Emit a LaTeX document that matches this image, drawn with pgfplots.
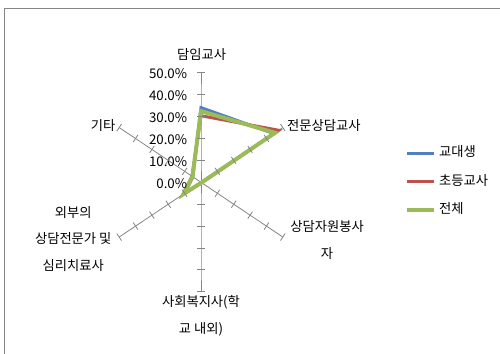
\documentclass[border=0pt]{standalone}
\usepackage{pgfplots}
\pgfplotsset{compat=1.18}
\usepackage{fontspec}
\setmainfont{Noto Sans CJK KR}
\definecolor{sblue}{HTML}{4F81BD}
\definecolor{sred}{HTML}{C0504D}
\definecolor{sgreen}{HTML}{9BBB59}
\definecolor{axgray}{HTML}{868686}
\tikzset{lab/.style={font=\fontsize{13.3}{26.7}\selectfont, inner sep=0pt, text=black}}
\begin{document}
\begin{tikzpicture}[x=1pt,y=1pt]
\useasboundingbox (0,0) rectangle (500,353);
\draw[axgray, line width=0.8pt] (4,-20) -- (4,344.7) -- (520,344.7);
\begin{axis}[
  at={(201pt,170.7pt)}, anchor=center,
  x=1.89pt, y=2.19pt,
  xmin=-60, xmax=60, ymin=-60, ymax=60,
  hide axis, clip=false,
  legend style={at={(axis cs:107.9,0.27)}, anchor=west, draw=none, fill=none,
    inner sep=0pt, column sep=3pt, row sep=15.7pt,
    nodes={inner sep=0pt, text height=10pt, text depth=3pt, font=\fontsize{13.3}{16}\selectfont, text=black}},
  legend cell align=left,
  legend image code/.code={\draw[#1] (0pt,0pt) -- (27pt,0pt);},
]
% spokes with ticks
\addplot[axgray, line width=0.8pt, data cs=polar, forget plot, mark=-, mark size=4.2pt, mark indices={2,3,4,5,6}, mark options={solid, rotate=0}] coordinates {(90,0) (90,10) (90,20) (90,30) (90,40) (90,50)};
\addplot[axgray, line width=0.8pt, data cs=polar, forget plot, mark=-, mark size=4.2pt, mark indices={2,3,4,5,6}, mark options={solid, rotate=0}] coordinates {(-90,0) (-90,10) (-90,20) (-90,30) (-90,40) (-90,50)};
\addplot[axgray, line width=0.8pt, data cs=polar, forget plot, mark=-, mark size=4.2pt, mark indices={2,3,4,5,6}, mark options={solid, rotate=123.8}] coordinates {(30,0) (30,10) (30,20) (30,30) (30,40) (30,50)};
\addplot[axgray, line width=0.8pt, data cs=polar, forget plot, mark=-, mark size=4.2pt, mark indices={2,3,4,5,6}, mark options={solid, rotate=56.2}] coordinates {(-30,0) (-30,10) (-30,20) (-30,30) (-30,40) (-30,50)};
\addplot[axgray, line width=0.8pt, data cs=polar, forget plot, mark=-, mark size=4.2pt, mark indices={2,3,4,5,6}, mark options={solid, rotate=56.2}] coordinates {(150,0) (150,10) (150,20) (150,30) (150,40) (150,50)};
\addplot[axgray, line width=0.8pt, data cs=polar, forget plot, mark=-, mark size=4.2pt, mark indices={2,3,4,5,6}, mark options={solid, rotate=123.8}] coordinates {(-150,0) (-150,10) (-150,20) (-150,30) (-150,40) (-150,50)};
% series
\addplot[sblue, line width=3pt, data cs=polar, no marks] coordinates {(90,34.1) (30,44.5) (-30,0.3) (-90,0.3) (-150,10) (150,5)} --cycle;
\addlegendentry{교대생}
\addplot[sred, line width=3pt, data cs=polar, no marks] coordinates {(90,30.4) (30,47.5) (-30,0.3) (-90,0.3) (-150,11) (150,5.5)} --cycle;
\addlegendentry{초등교사}
\addplot[sgreen, line width=4pt, data cs=polar, no marks] coordinates {(90,32.5) (30,45.2) (-30,0.3) (-90,0.3) (-150,10.5) (150,5.2)} --cycle;
\addlegendentry{전체}
% tick labels
\node[lab, anchor=east] at (axis cs:-7.25,-0.45) {0.0\%};
\node[lab, anchor=east] at (axis cs:-7.25,9.55) {10.0\%};
\node[lab, anchor=east] at (axis cs:-7.25,19.55) {20.0\%};
\node[lab, anchor=east] at (axis cs:-7.25,29.55) {30.0\%};
\node[lab, anchor=east] at (axis cs:-7.25,39.55) {40.0\%};
\node[lab, anchor=east] at (axis cs:-7.25,49.55) {50.0\%};
% category labels
\node[lab] at (axis cs:0.37,58.45) {담임교사};
\node[lab, anchor=west] at (axis cs:45.5,25.7) {전문상담교사};
\node[lab, align=center] at (axis cs:66.7,-26.2) {상담자원봉사\\자};
\node[lab, align=center] at (axis cs:0,-61.1) {사회복지사(학\\교 내외)};
\node[lab, align=center] at (axis cs:-67.6,-25.8) {외부의\\상담전문가 및\\심리치료사};
\node[lab, anchor=east] at (axis cs:-45.2,25.7) {기타};
\end{axis}
\end{tikzpicture}
\end{document}
